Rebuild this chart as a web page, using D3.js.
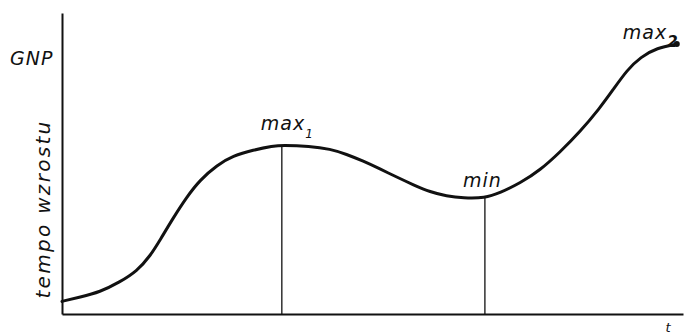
<!DOCTYPE html>
<html lang="pl">
<head>
  <meta charset="utf-8">
  <title>Tempo wzrostu GNP</title>
  <script src="https://d3js.org/d3.v7.min.js"></script>
  <style>
    body {
      margin: 0;
      background: #fff;
    }
    svg text {
      font-family: 'DejaVu Sans', sans-serif;
      font-style: italic;
      fill: #111;
    }
    .axis path {
      stroke: #111;
      stroke-width: 2;
    }
    .curve {
      fill: none;
      stroke: #111;
      stroke-width: 3;
      stroke-linejoin: round;
      stroke-linecap: round;
    }
    .drop {
      stroke: #111;
      stroke-width: 1.3;
    }
  </style>
</head>
<body>
  <div id="chart"></div>
  <script>
    // curve (t and GNP growth in arbitrary units 0-100)
    var tValues = [0, 2.9, 6.1, 9.3, 12.1, 14.2, 15.8, 17.9, 20.1, 22.2, 25, 27.5, 30.8, 34, 35.4,
      39.9, 43.2, 45.8, 48.5, 51.2, 53.9, 56.6, 59.3, 61.9, 64.6, 68.1,
      70.5, 73.8, 77, 80.2, 83.4, 86.6, 88.7, 91, 93.2, 95.8, 99];
    var gnpValues = [4.2, 5.6, 7.3, 10.6, 14.3, 19.3, 24.6, 31.9, 38.9, 44.5, 49.5, 52.5, 54.5, 55.8, 56.1,
      55.8, 54.8, 53.1, 50.8, 48.2, 45.5, 42.9, 40.5, 39.2, 38.5, 38.5,
      40.2, 43.5, 47.8, 53.8, 60.5, 68.4, 74.4, 81.1, 85.4, 88.4, 89.7];

    // extremes marked on the chart
    var extremeNames = ["max", "min", "max"];
    var extremeSubs = ["1", "", "2"];
    var extremeT = [35.4, 68.1, 99];
    var extremeGnp = [56.1, 38.5, 89.7];

    var yLabel = "GNP";
    var yTitle = "tempo wzrostu";
    var xTitle = "t";

    var width = 684, height = 334;

    var svg = d3.select("#chart")
      .append("svg")
      .attr("width", width)
      .attr("height", height);

    var x = d3.scaleLinear().domain([0, 100]).range([62, 683]);
    var y = d3.scaleLinear().domain([0, 100]).range([314, 13]);

    // axes without ticks
    svg.append("g")
      .attr("class", "axis")
      .attr("transform", "translate(0," + y(0) + ")")
      .call(d3.axisBottom(x).tickValues([]).tickSizeOuter(0));

    svg.append("g")
      .attr("class", "axis")
      .attr("transform", "translate(" + x(0) + ",0)")
      .call(d3.axisLeft(y).tickValues([]).tickSizeOuter(0));

    // vertical lines down from max1 and min
    for (var i = 0; i < 2; i++) {
      svg.append("line")
        .attr("class", "drop")
        .attr("x1", x(extremeT[i]))
        .attr("x2", x(extremeT[i]))
        .attr("y1", y(0))
        .attr("y2", y(extremeGnp[i]));
    }

    var points = tValues.map(function(t, i) { return [t, gnpValues[i]]; });

    var line = d3.line()
      .x(function(d) { return x(d[0]); })
      .y(function(d) { return y(d[1]); })
      .curve(d3.curveBasis);

    svg.append("path")
      .attr("class", "curve")
      .attr("d", line(points));

    // dot at the end of the curve
    svg.append("circle")
      .attr("cx", x(extremeT[2]))
      .attr("cy", y(extremeGnp[2]))
      .attr("r", 3)
      .attr("fill", "#111");

    // labels of the extremes
    var labelDx = [-21, -22, -54];
    var labelDy = [-15, -11, -5];
    var subSize = ["12px", "", "15px"];
    extremeNames.forEach(function(name, i) {
      var txt = svg.append("text")
        .attr("x", x(extremeT[i]) + labelDx[i])
        .attr("y", y(extremeGnp[i]) + labelDy[i])
        .style("font-size", "19px")
        .style("letter-spacing", "1px")
        .text(name);
      if (extremeSubs[i]) {
        txt.append("tspan")
          .attr("dy", 8)
          .style("font-size", subSize[i])
          .style("font-weight", i == 2 ? "bold" : "normal")
          .text(extremeSubs[i]);
      }
    });

    // y labels
    svg.append("text")
      .attr("x", 10)
      .attr("y", 65)
      .style("font-size", "19px")
      .style("letter-spacing", "1px")
      .text(yLabel);

    svg.append("text")
      .attr("transform", "translate(50,209) rotate(-90)")
      .attr("text-anchor", "middle")
      .style("font-size", "20px")
      .style("letter-spacing", "2.3px")
      .text(yTitle);

    svg.append("text")
      .attr("x", 668)
      .attr("y", 332)
      .attr("text-anchor", "middle")
      .style("font-size", "13px")
      .text(xTitle);
  </script>
</body>
</html>
